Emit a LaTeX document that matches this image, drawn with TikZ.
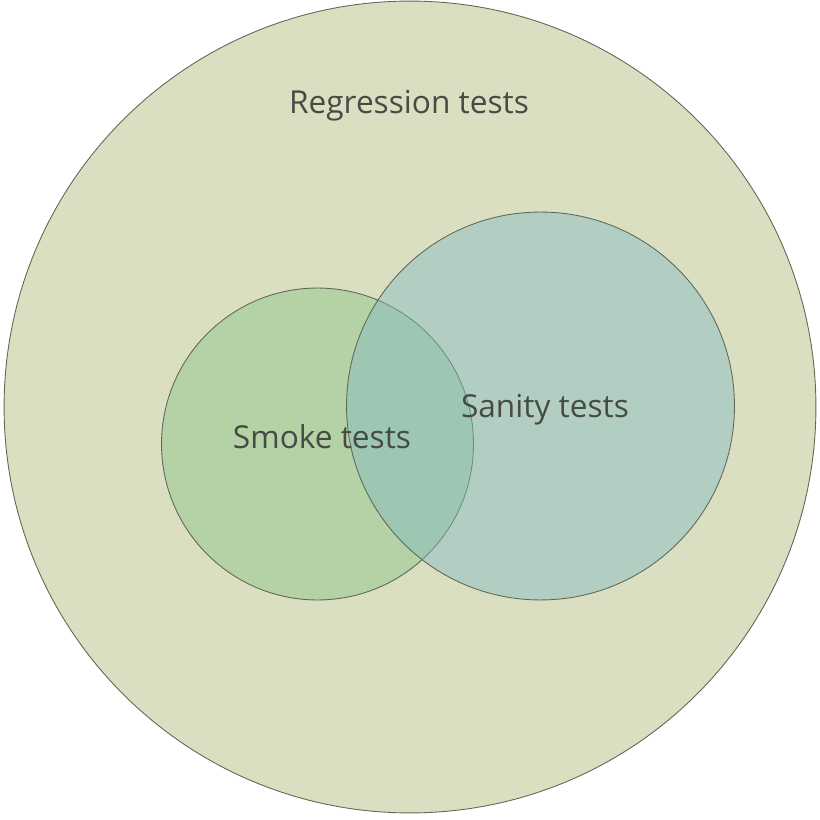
\documentclass[tikz,border=0pt]{standalone}
\usepackage{fontspec}
\setmainfont{Open Sans}
\usepackage{xcolor}
\usepackage{tikz}
\usetikzlibrary{positioning}
\definecolor{regfill}{RGB}{218,223,193}
\definecolor{smokefill}{RGB}{181,209,166}
\definecolor{sanityfill}{RGB}{131,187,197}
\definecolor{rimline}{RGB}{95,105,85}
\definecolor{txtgray}{RGB}{70,75,70}
\tikzset{
  setcircle/.style={circle, draw=rimline, line width=0.5pt, inner sep=0pt},
  regset/.style={setcircle, fill=regfill, minimum size=16.24cm},
  smokeset/.style={setcircle, fill=smokefill, minimum size=6.24cm},
  sanityset/.style={setcircle, fill=sanityfill, fill opacity=0.45, minimum size=7.76cm},
  setlbl/.style={font=\fontsize{18}{21}\selectfont, text=txtgray, inner sep=0pt}
}

\begin{document}
\begin{tikzpicture}[x=0.02cm, y=-0.02cm]
    \useasboundingbox (0,0) rectangle (820,820);
    \node[regset] (reg) at (410,407) {};
    \node[smokeset] (smoke) at (317.5,444) {};
    \node[sanityset] (sanity) at (540.5,406) {};
    \node[setlbl] (reglbl) at (409,106) {Regression tests};
    \node[setlbl] (smokelbl) at (322,437) {Smoke tests};
    \node[setlbl] (sanitylbl) at (545,410) {Sanity tests};
  \end{tikzpicture}
\end{document}
